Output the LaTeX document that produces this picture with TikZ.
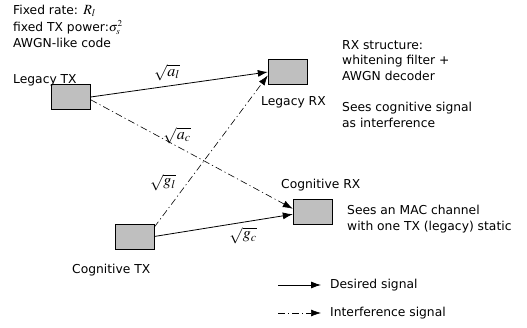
\documentclass[tikz,border=0pt]{standalone}
\usepackage{mathptmx}
\usepackage{fontspec}
\setmainfont{DejaVu Sans}
\usetikzlibrary{arrows.meta}
\tikzset{
  box/.style={draw=black, fill=black!25, minimum width=39pt, minimum height=25pt, inner sep=0pt},
  txt/.style={font=\fontsize{12.3}{15.5}\selectfont, inner sep=0pt, align=left, anchor=west},
  gain/.style={font=\fontsize{16}{18}\selectfont, inner sep=0pt},
  desired/.style={line width=0.8pt, -{Latex[length=10pt,width=7pt]}},
  interf/.style={line width=0.6pt, dash pattern=on 7pt off 3pt on 1.2pt off 3pt, -{Latex[length=10pt,width=7pt]}}
}
\begin{document}
\begin{tikzpicture}[x=1pt,y=-1pt]
\useasboundingbox (0,0) rectangle (527,328);
% boxes
\node[box] (ltx) at (71,97) {};
\node[box] (lrx) at (287.5,72) {};
\node[box] (ctx) at (134.5,236.5) {};
\node[box] (crx) at (312.5,211.5) {};
% box labels
\node[txt] (ltxl) at (13,80) {Legacy TX};
\node[txt] (lrxl) at (261,102) {Legacy RX};
\node[txt] (crxl) at (281,185) {Cognitive RX};
\node[txt] (ctxl) at (72,270) {Cognitive TX};
% notes
\node[txt] (note1a) at (13,11) {Fixed rate: {\fontsize{14}{14}\selectfont$R_l$}};
\node[txt] (note1b) at (13,27.5) {fixed TX power:$\sigma_s^2$};
\node[txt] (note1c) at (13,43) {AWGN-like code};
\node[txt, anchor=north west] (note2) at (342,40) {RX structure:\\whitening filter +\\AWGN decoder};
\node[txt, anchor=north west] (note3) at (342,102) {Sees cognitive signal\\as interference};
\node[txt, anchor=north west] (note4) at (347,205) {Sees an MAC channel\\with one TX (legacy) static};
% connectors
\draw[desired] (ltx.east) -- (lrx.west);
\draw[interf] (ltx.-8) -- (crx.172);
\draw[interf] (ctx.25) -- (lrx.190);
\draw[desired] (ctx.east) -- (crx.188);
% gains
\node[gain] (al) at (167,73) {$\sqrt{a_l}$};
\node[gain] (ac) at (177,136) {$\sqrt{a_c}$};
\node[gain] (gl) at (163,183) {$\sqrt{g_l}$};
\node[gain] (gc) at (243,236) {$\sqrt{g_c}$};
% legend
\coordinate (d1) at (278,285);
\coordinate (d2) at (321,285);
\coordinate (i1) at (278,313);
\coordinate (i2) at (321,313);
\draw[desired] (d1) -- (d2);
\draw[interf] (i1) -- (i2);
\node[txt] (dl) at (330,285) {Desired signal};
\node[txt] (il) at (330,313) {Interference signal};
\end{tikzpicture}
\end{document}
